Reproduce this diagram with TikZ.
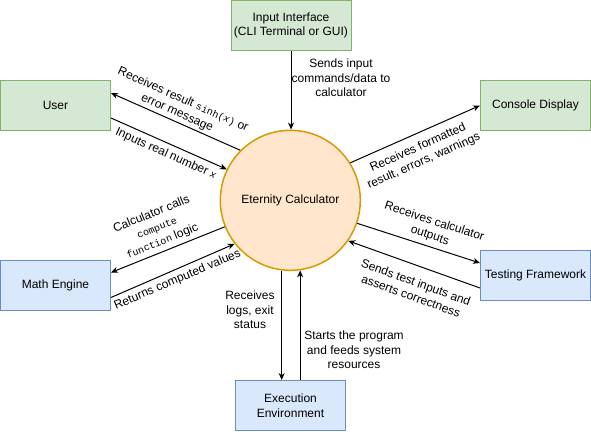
\documentclass[tikz,border=0pt]{standalone}
\usepackage{fontspec}
\setmainfont{Liberation Sans}
\setmonofont{Liberation Mono}
\usetikzlibrary{arrows.meta}

\definecolor{greenfill}{HTML}{D5E8D4}
\definecolor{greenline}{HTML}{82B366}
\definecolor{bluefill}{HTML}{DAE8FC}
\definecolor{blueline}{HTML}{6C8EBF}
\definecolor{orangefill}{HTML}{FFE6CC}
\definecolor{orangeline}{HTML}{D79B00}

\newcommand{\codetxt}[1]{{\fontsize{10}{14.5}\selectfont\ttfamily #1}}

\tikzset{
    greenbox/.style={draw=greenline, fill=greenfill, line width=1pt, minimum width=110pt, minimum height=50pt, inner sep=0pt, align=center},
    bluebox/.style={draw=blueline, fill=bluefill, line width=1pt, minimum width=110pt, minimum height=50pt, inner sep=0pt, align=center},
    lbl/.style={align=center, inner sep=0pt},
    flow/.style={->, line width=1pt}
}

\begin{document}
\begin{tikzpicture}[x=1pt, y=-1pt, font=\fontsize{12}{14.5}\selectfont, >={Stealth[length=7pt,width=6pt]}]
            \useasboundingbox (0,0) rectangle (591,431);

            \node[draw=orangeline, fill=orangefill, line width=1.5pt, shape=circle, minimum size=140pt, inner sep=0pt] (EC) at (290.3,200.3) {Eternity Calculator};

            \node[greenbox, minimum width=120pt] (II) at (291,25.5) {Input Interface\\(CLI Terminal or GUI)};
            \node[greenbox] (US) at (55.5,105.5) {User};
            \node[greenbox] (CD) at (535.5,105.5) {Console Display};
            \node[bluebox] (ME) at (55.5,285) {Math Engine};
            \node[bluebox] (TF) at (535.5,275.5) {Testing Framework};
            \node[bluebox] (EE) at (290.5,405.5) {Execution\\Environment};

            \draw[flow] (II.south) -- (II.south |- EC.north);
            \draw[flow] (EC.135) -- ([yshift=12.5pt]US.east);
            \draw[flow] ([yshift=-12.5pt]US.east) -- (EC.154);
            \draw[flow] (EC.202) -- ([yshift=12.5pt]ME.east);
            \draw[flow] ([yshift=-12.5pt]ME.east) -- (EC.218);
            \draw[flow] (EC.32) -- (CD.west);
            \draw[flow] (EC.341) -- ([yshift=12.5pt]TF.west);
            \draw[flow] ([yshift=-12.5pt]TF.west) -- (EC.325);
            \draw[flow] (EC.263) -- (EC.263 |- EE.north);
            \draw[flow] (EC.278.5 |- EE.north) -- (EC.278.5);

            \node[lbl] (LA) at (341,78) {Sends input\\commands/data to\\calculator};
            \node[lbl, rotate=-24] (LB) at (180,106.5) {Receives result \codetxt{sinh(\itshape x\upshape)} or\\error message};
            \node[lbl, rotate=-24] (LC) at (166,154) {Inputs real number \codetxt{\itshape x}};
            \node[lbl, rotate=22] (LD) at (157,228) {Calculator calls\\\codetxt{compute}\\\codetxt{function} logic};
            \node[lbl, rotate=23] (LE) at (177.5,280) {Returns computed values};
            \node[lbl, rotate=24] (LF) at (421,154.5) {Receives formatted\\result, errors, warnings};
            \node[lbl, rotate=-18] (LG) at (432,229) {Receives calculator\\outputs};
            \node[lbl, rotate=-20] (LH) at (413.5,289) {Sends test inputs and\\asserts correctness};
            \node[lbl] (LI) at (250,310) {Receives\\logs, exit\\status};
            \node[lbl] (LJ) at (354,350) {Starts the program\\and feeds system\\resources};
        \end{tikzpicture}
\end{document}
